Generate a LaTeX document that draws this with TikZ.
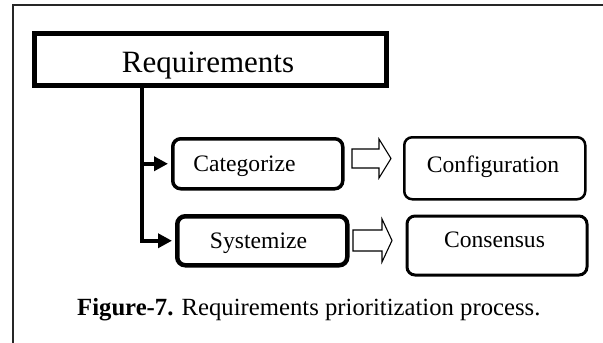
\documentclass[tikz,border=0pt]{standalone}
\usepackage{fontspec}
\setmainfont{Liberation Serif}
\usetikzlibrary{arrows.meta}
\begin{document}
\begin{tikzpicture}[x=1pt,y=-1pt,
  plainbox/.style={draw, inner sep=0pt, anchor=north west},
  roundbox/.style={draw, rounded corners=8pt, inner sep=0pt, anchor=north west},
  lbl/.style={anchor=base, inner sep=0pt, font=\fontsize{23.6}{28}\selectfont},
  branch/.style={line width=4pt, shorten >=3pt, -{Triangle[length=14pt,width=14pt]}},
  hollow/.style={draw, line width=1.1pt, fill=white, line join=miter}]
\useasboundingbox (0,0) rectangle (603,343);

% outer frame (top and left edges only)
\draw[line width=2pt, black!85] (13,343) -- (13,5) -- (603,5);

% root box
\node[plainbox, line width=4.5pt, minimum width=352pt, minimum height=52pt] (req) at (32,31) {};
\node[anchor=base, inner sep=0pt, font=\fontsize{31}{36}\selectfont] (reqt) at (208,72) {Requirements};

% second level boxes
\node[roundbox, line width=3.5pt, minimum width=170pt, minimum height=50pt] (cat) at (171,137) {};
\node[lbl] (catt) at (244.5,171) {Categorize};
\node[roundbox, line width=4.5pt, minimum width=170pt, minimum height=49pt] (sys) at (175,214) {};
\node[lbl] (syst) at (258.5,248) {Systemize};

% result boxes
\node[roundbox, line width=2.5pt, minimum width=181pt, minimum height=62pt] (conf) at (403,136) {};
\node[lbl] (conft) at (493,172) {Configuration};
\node[roundbox, line width=3pt, minimum width=180pt, minimum height=59pt] (cons) at (405.5,214.5) {};
\node[lbl] (const) at (494.5,247) {Consensus};

% tree connectors
\coordinate (stem) at (142,83);
\draw[branch] (stem) |- (cat.west);
\draw[branch] (stem) |- (sys.west);

% hollow block arrows
\draw[hollow] (352,149) -- (379,149) -- (379,139) -- (391,158.5) -- (379,178) -- (379,168) -- (352,168) -- cycle;
\draw[hollow] (353,230) -- (382,230) -- (382,219) -- (392,240.5) -- (382,262) -- (382,251) -- (353,251) -- cycle;

% caption
\node[anchor=base west, inner sep=0pt, font=\fontsize{24.7}{29}\selectfont] (cap) at (77,315)
  {\textbf{Figure-7.} Requirements prioritization process.};
\end{tikzpicture}
\end{document}
